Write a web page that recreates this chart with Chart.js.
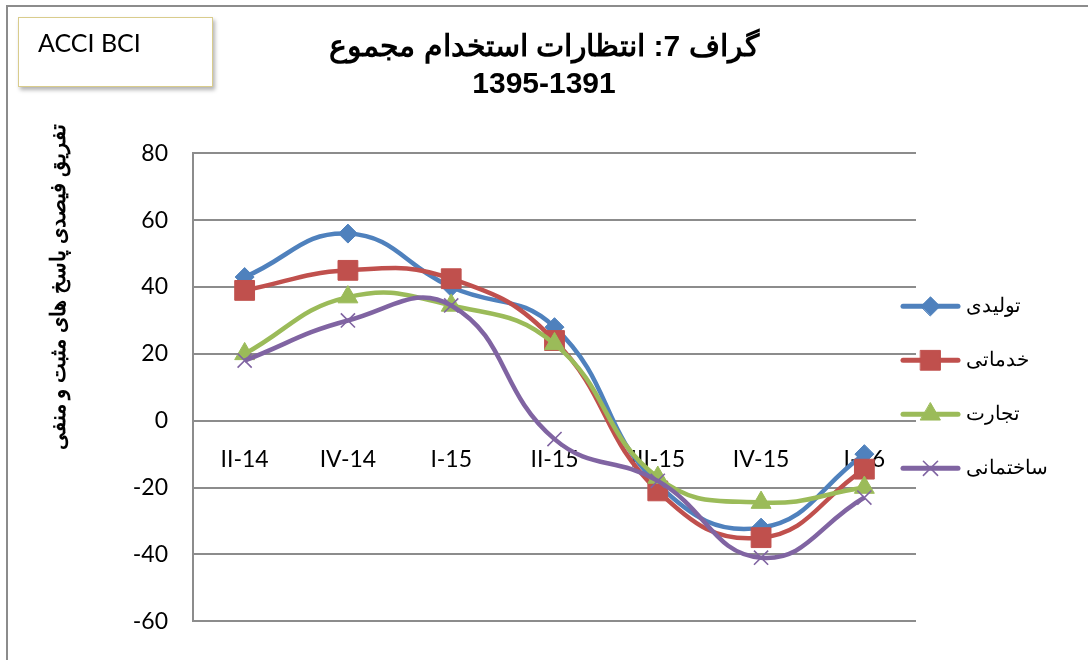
<!DOCTYPE html>
<html lang="fa">
<head>
<meta charset="utf-8">
<title>ACCI BCI - گراف 7</title>
<script src="https://cdn.jsdelivr.net/npm/chart.js@4.4.1/dist/chart.umd.min.js"></script>
<style>
  html, body { margin: 0; padding: 0; background: #fff; overflow: hidden; }
  #wrap { position: relative; width: 1088px; height: 660px; overflow: hidden; }
  #frame { position: absolute; left: 6px; top: 5px; width: 1100px; height: 700px; border: 2px solid #8c8c8c; }
  #chart { position: absolute; left: 0; top: 0; }
  #badge {
    position: absolute; left: 18px; top: 17px; width: 193px; height: 68px;
    border: 1.5px solid #d9cc8c; background: #fff;
    box-shadow: 2px 3px 4px rgba(0, 0, 0, 0.3);
    font-family: Lato, "Open Sans", sans-serif; font-size: 25px; color: #000;
  }
  #badge span { position: absolute; left: 19px; top: 9px; line-height: 30px; }
</style>
</head>
<body>
<div id="wrap">
  <div id="frame"></div>
  <canvas id="chart" width="1088" height="660"></canvas>
  <div id="badge"><span>ACCI BCI</span></div>
</div>
<script>
// chart data
const quarters = ["II-14", "IV-14", "I-15", "II-15", "III-15", "IV-15", "I-16"];
const production = [43, 56, 40, 28, -19, -32, -10];     // تولیدی
const services = [39, 45, 42.5, 24, -21, -35, -14.5];   // خدماتی
const trade = [20, 37, 34.5, 23, -17, -24.5, -20];      // تجارت
const construction = [18, 30, 34.5, -5.5, -18, -41, -23]; // ساختمانی
const seriesNames = ["تولیدی", "خدماتی", "تجارت", "ساختمانی"];
const yTicks = [80, 60, 40, 20, 0, -20, -40, -60];

const titleLines = ["گراف 7: انتظارات استخدام مجموع", "1395-1391"];
const yTitle = "تفریق فیصدی پاسخ های مثبت و منفی";

const COLORS = ["#4f81bd", "#c0504d", "#9bbb59", "#8064a2"];

function makeSeries(idx, data, pointStyle, radius, borderW) {
  const color = COLORS[idx];
  return {
    label: seriesNames[idx],
    data: data,
    borderColor: color,
    backgroundColor: color,
    pointBackgroundColor: color,
    pointBorderColor: color,
    pointStyle: pointStyle,
    pointRadius: radius,
    pointBorderWidth: borderW,
    borderWidth: 4.5,
    tension: 0.45,
    fill: false,
    order: 4 - idx // later series on top, like Excel
  };
}

// y axis title, rotated, placed like the original
const yTitlePlugin = {
  id: "yTitle",
  afterDraw(chart) {
    const ctx = chart.ctx;
    const area = chart.chartArea;
    ctx.save();
    ctx.translate(area.left - 134, area.top + 134);
    ctx.rotate(-Math.PI / 2);
    ctx.font = "bold 21px Arial";
    ctx.fillStyle = "#000";
    ctx.textAlign = "center";
    ctx.textBaseline = "middle";
    ctx.fillText(yTitle, 0, 0);
    ctx.restore();
  }
};

// legend on the right: line sample with marker, then label
const sideLegend = {
  id: "sideLegend",
  afterDraw(chart) {
    const ctx = chart.ctx;
    const area = chart.chartArea;
    const mid = (area.top + area.bottom) / 2;
    const x0 = area.right - 13;
    chart.data.datasets.forEach((ds, i) => {
      const y = mid + (i - 1.5) * 54;
      ctx.save();
      ctx.strokeStyle = ds.borderColor;
      ctx.lineWidth = 5;
      ctx.lineCap = "round";
      ctx.beginPath();
      ctx.moveTo(x0, y);
      ctx.lineTo(x0 + 55, y);
      ctx.stroke();
      ctx.fillStyle = ds.pointBackgroundColor;
      ctx.strokeStyle = ds.pointBorderColor;
      ctx.lineWidth = ds.pointBorderWidth;
      if (Chart.helpers && Chart.helpers.drawPoint) {
        Chart.helpers.drawPoint(ctx, {
          pointStyle: ds.pointStyle, radius: ds.pointRadius,
          borderWidth: ds.pointBorderWidth, rotation: 0
        }, x0 + 27.5, y);
      }
      ctx.font = "20px Arial";
      ctx.fillStyle = "#000";
      ctx.textAlign = "left";
      ctx.textBaseline = "middle";
      ctx.fillText(ds.label, x0 + 63, y);
      ctx.restore();
    });
  }
};

Chart.defaults.font.family = "Lato, 'Open Sans', sans-serif";
Chart.defaults.color = "#000";

const ctx = document.getElementById("chart").getContext("2d");
new Chart(ctx, {
  type: "line",
  data: {
    labels: quarters,
    datasets: [
      makeSeries(0, production, "rectRot", 9.5, 1),
      makeSeries(1, services, "rect", 14, 1),
      makeSeries(2, trade, "triangle", 11.5, 1),
      makeSeries(3, construction, "crossRot", 10, 1.6)
    ]
  },
  options: {
    responsive: false,
    animation: false,
    events: [],
    layout: { padding: { left: 0, right: 0, top: 0, bottom: 33 } },
    plugins: {
      legend: { display: false },
      tooltip: { enabled: false },
      title: {
        display: true,
        text: titleLines,
        color: "#000",
        font: { family: "Arial", size: 30, weight: "bold", lineHeight: 1.24 },
        padding: { top: 29, bottom: 50 }
      }
    },
    scales: {
      x: {
        type: "category",
        offset: true,
        position: { y: 0 },
        grid: { display: false, drawTicks: false },
        border: { display: false },
        ticks: {
          padding: 25, autoSkip: false, maxRotation: 0,
          font: { size: 23 }, color: "#000"
        }
      },
      y: {
        min: -60,
        max: 80,
        afterBuildTicks: (scale) => {
          scale.ticks = yTicks.map(v => ({ value: v }));
        },
        afterFit: (scale) => { scale.width = 193; },
        grid: { color: "#8c8c8c", lineWidth: 2, drawTicks: false },
        border: { color: "#8c8c8c", width: 2 },
        ticks: { padding: 25, font: { size: 23 }, color: "#000" }
      },
      // empty right axis that only keeps room for the legend
      legendRoom: {
        type: "linear",
        position: "right",
        min: -60,
        max: 80,
        grid: { display: false, drawTicks: false },
        border: { display: false },
        ticks: { display: false },
        afterFit: (scale) => { scale.width = 172; }
      }
    }
  },
  plugins: [yTitlePlugin, sideLegend]
});
</script>
</body>
</html>
